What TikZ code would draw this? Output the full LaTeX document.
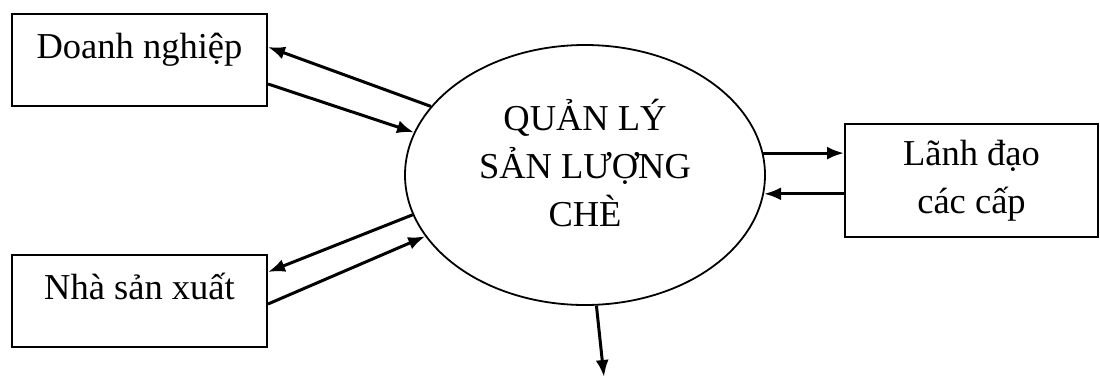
\documentclass[tikz,border=0pt]{standalone}
\usepackage{fontspec}
\setmainfont{Liberation Serif}
\usetikzlibrary{arrows.meta,shapes.geometric}
\begin{document}
\begin{tikzpicture}[x=1pt,y=-1pt,
  txt/.style={font=\fontsize{36.5pt}{48pt}\selectfont},
  entity/.style={draw,line width=2pt,inner sep=0pt,txt,
    minimum width=255pt,minimum height=92pt,text height=24pt,text depth=28pt},
  flow/.style={line width=3pt,-{Latex[length=17pt,width=13pt]}}]
\useasboundingbox[fill=white] (0,0) rectangle (1100,378);

% external entities
\node[entity] (D) at (139.5,60) {Doanh nghiệp};
\node[entity] (N) at (139.5,301) {Nhà sản xuất};
\node[draw,line width=2pt,inner sep=0pt,txt,align=center,
      minimum width=253pt,minimum height=113pt] (L) at (971.5,180.5)
      {Lãnh đạo\\các cấp};

% central process
\node[ellipse,draw,line width=1.8pt,inner sep=0pt,
      minimum width=360pt,minimum height=260pt] (E) at (585,175) {};
\node[txt,align=center] (Et) at (585,163) {QUẢN LÝ\\SẢN LƯỢNG\\CHÈ};

% data flows
\draw[flow] (E.156.6) -- ([yshift=13pt]D.east);
\draw[flow] ([yshift=-24pt]D.east) -- (E.166.6);
\draw[flow] (E.193) -- ([yshift=29pt]N.east);
\draw[flow] ([yshift=-3pt]N.east) -- (E.201.8);
\draw[flow] (E.7) -- (E.7 -| L.west);
\draw[flow] (L.west |- E.-6) -- (E.-6);
\coordinate (out) at (604,377);
\draw[flow] (E.275.7) -- (out);
\end{tikzpicture}
\end{document}
